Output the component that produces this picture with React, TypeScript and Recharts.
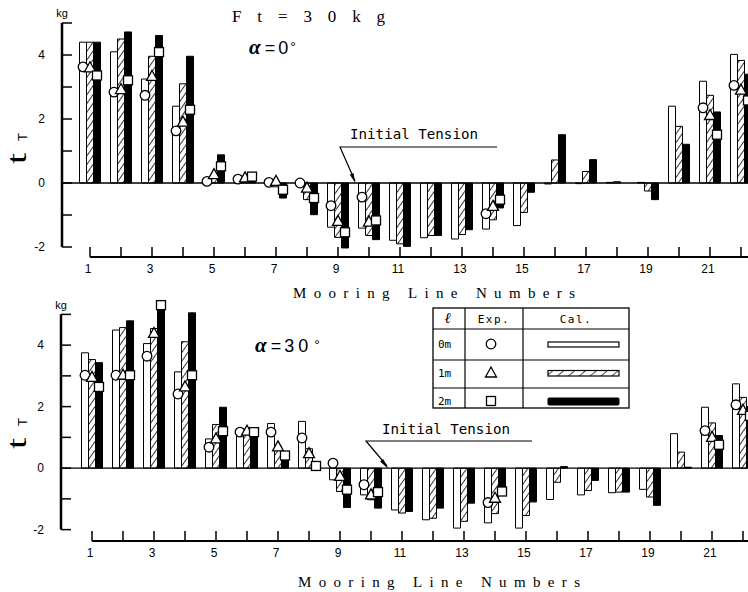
import React from 'react';
import { ComposedChart, Bar, Line, XAxis, YAxis, ReferenceLine, Legend } from 'recharts';

const lineNumbers = [1, 2, 3, 4, 5, 6, 7, 8, 9, 10, 11, 12, 13, 14, 15, 16, 17, 18, 19, 20, 21, 22];
const labeledLines = [1, 3, 5, 7, 9, 11, 13, 15, 17, 19, 21];
const tensionTicks = [-2, -1, 0, 1, 2, 3, 4, 5];
const labeledTensions = [-2, 0, 2, 4];
const lengthLabels = ['0m', '1m', '2m'];

// alpha = 0 deg, calculated (bars)
const cal0mA0 = [4.4, 4.1, 3.25, 2.4, 0.05, 0.03, -0.05, -0.05, -1.38, -1.41, -1.79, -1.71, -1.75, -1.44, -1.33, -0.03, -0.02, 0.02, 0.02, 2.4, 3.18, 4.02];
const cal1mA0 = [4.4, 4.5, 3.96, 3.1, 0.22, 0.12, -0.12, -0.52, -1.7, -1.64, -1.9, -1.64, -1.61, -1.15, -0.92, 0.72, 0.36, 0.04, -0.25, 1.77, 2.74, 3.83];
const cal2mA0 = [4.4, 4.72, 4.61, 3.96, 0.88, 0.18, -0.47, -0.99, -2.03, -1.77, -1.98, -1.64, -1.46, -0.78, -0.29, 1.51, 0.73, 0.0, -0.52, 1.21, 2.22, 3.4];
// alpha = 0 deg, experiment (markers)
const exp0mA0 = [3.63, 2.84, 2.74, 1.63, 0.05, 0.12, 0.02, 0.0, -0.71, -0.44, null, null, null, -0.96, null, null, null, null, null, null, 2.35, 3.05];
const exp1mA0 = [3.6, 2.92, 3.33, 1.9, 0.26, 0.16, 0.05, -0.16, -1.2, -1.22, null, null, null, -0.73, null, null, null, null, null, null, 2.11, 2.9];
const exp2mA0 = [3.36, 3.21, 4.09, 2.29, 0.52, 0.2, -0.21, -0.47, -1.54, -1.17, null, null, null, -0.52, null, null, null, null, null, null, 1.51, 2.58];

// alpha = 30 deg, calculated (bars)
const cal0mA30 = [3.75, 4.49, 4.05, 3.13, 0.95, 1.17, 1.45, 1.52, -0.38, -0.87, -1.36, -1.68, -1.95, -1.78, -1.95, -1.02, -0.87, -0.8, -0.69, 1.12, 1.98, 2.74];
const cal1mA30 = [3.53, 4.57, 4.54, 4.11, 1.42, 1.2, 0.72, 0.63, -0.76, -1.03, -1.46, -1.63, -1.73, -1.48, -1.54, -0.46, -0.73, -0.78, -0.94, 0.52, 1.47, 2.3];
const cal2mA30 = [3.43, 4.79, 5.3, 5.05, 1.98, 1.1, 0.41, 0.03, -1.28, -1.3, -1.41, -1.3, -1.14, -0.89, -1.1, 0.05, -0.4, -0.78, -1.21, 0.03, 1.06, 2.0];
// alpha = 30 deg, experiment (markers)
const exp0mA30 = [3.02, 3.02, 3.64, 2.41, 0.68, 1.17, 1.17, 0.98, 0.16, -0.54, null, null, null, -1.12, null, null, null, null, null, null, 1.22, 2.06];
const exp1mA30 = [2.95, 3.02, 4.38, 2.64, 0.95, 1.2, 0.69, 0.47, -0.27, -0.87, null, null, null, -0.98, null, null, null, null, null, null, 1.0, 1.88];
const exp2mA30 = [2.64, 3.02, 5.3, 3.02, 1.2, 1.17, 0.41, 0.07, -0.7, -0.78, null, null, null, -0.76, null, null, null, null, null, null, 0.76, 1.7];

const buildRows = (c0: number[], c1: number[], c2: number[], e0: (number | null)[], e1: (number | null)[], e2: (number | null)[]) =>
  lineNumbers.map((line, i) => ({ line, c0: c0[i], c1: c1[i], c2: c2[i], e0: e0[i], e1: e1[i], e2: e2[i] }));

const dataA0 = buildRows(cal0mA0, cal1mA0, cal2mA0, exp0mA0, exp1mA0, exp2mA0);
const dataA30 = buildRows(cal0mA30, cal1mA30, cal2mA30, exp0mA30, exp1mA30, exp2mA30);

const CHART_W = 800;
const BAR = 7;
const monoFont = '"DejaVu Sans Mono", monospace';
const tickFont = '"Liberation Sans", "DejaVu Sans", sans-serif';
const serifFont = '"Liberation Serif", "DejaVu Serif", serif';

const Marker = (props: any) => {
  const { cx, cy, kind, dx, value } = props;
  if (cx == null || cy == null || value == null) return null;
  const x = cx + (dx || 0);
  const common = { fill: '#fff', stroke: '#000', strokeWidth: 1.3 };
  if (kind === 'circle') return <circle cx={x} cy={cy} r={4.8} {...common} />;
  if (kind === 'triangle')
    return <polygon points={`${x},${cy - 6} ${x + 5.5},${cy + 4} ${x - 5.5},${cy + 4}`} {...common} />;
  return <rect x={x - 4.5} y={cy - 4.5} width={9} height={9} {...common} />;
};

const renderYTick = (props: any) => {
  const { x, y, payload } = props;
  const v = payload.value;
  return (
    <g>
      <line x1={x} y1={y} x2={x + 10} y2={y} stroke="#000" strokeWidth={1.5} />
      {labeledTensions.includes(v) && (
        <text x={x - 17} y={y} dy={4} textAnchor="end" fontSize={12} fontFamily={tickFont} fill="#000">
          {v}
        </text>
      )}
    </g>
  );
};

const renderXTick = (props: any) => {
  const { x, y, payload } = props;
  const v = payload.value;
  return (
    <g>
      <line x1={x} y1={y} x2={x} y2={y - 10} stroke="#000" strokeWidth={1.5} />
      {labeledLines.includes(v) && (
        <text x={x - 2} y={y + 16} textAnchor="middle" fontSize={12} fontFamily={tickFont} fill="#000">
          {v}
        </text>
      )}
    </g>
  );
};

const LegendTable = () => {
  const rowsY = [37, 66, 94];
  return (
    <svg width={198} height={102} style={{ display: 'block' }}>
      <rect x={1} y={1} width={196} height={100} fill="#fff" stroke="#000" strokeWidth={1.3} />
      <line x1={33} y1={1} x2={33} y2={101} stroke="#000" strokeWidth={1.2} />
      <line x1={91} y1={1} x2={91} y2={101} stroke="#000" strokeWidth={1.2} />
      <line x1={1} y1={22} x2={197} y2={22} stroke="#000" strokeWidth={1.2} />
      <line x1={1} y1={53} x2={197} y2={53} stroke="#000" strokeWidth={1.2} />
      <line x1={1} y1={81} x2={197} y2={81} stroke="#000" strokeWidth={1.2} />
      <text x={16} y={16} textAnchor="middle" fontSize={15} fontWeight="bold" fontStyle="italic" fontFamily={serifFont}>ℓ</text>
      <text x={62} y={16} textAnchor="middle" fontSize={11} letterSpacing={1.5} fontFamily={monoFont}>Exp.</text>
      <text x={144} y={16} textAnchor="middle" fontSize={11} letterSpacing={1.5} fontFamily={monoFont}>Cal.</text>
      {lengthLabels.map((l, i) => (
        <text key={l} x={6} y={rowsY[i] + 4} fontSize={11} fontFamily={monoFont}>{l}</text>
      ))}
      <Marker cx={59} cy={rowsY[0]} kind="circle" value={1} />
      <Marker cx={59} cy={rowsY[1]} kind="triangle" value={1} />
      <Marker cx={59} cy={rowsY[2]} kind="square" value={1} />
      <rect x={116} y={rowsY[0] - 2} width={71} height={5} fill="#fff" stroke="#000" strokeWidth={1.2} />
      <rect x={116} y={rowsY[1] - 2.5} width={71} height={5.5} fill="url(#hatchLegend)" stroke="#000" strokeWidth={1.2} />
      <rect x={116} y={rowsY[2] - 3} width={71} height={7} fill="#000" stroke="#000" strokeWidth={1} rx={1} />
    </svg>
  );
};

interface PanelProps {
  data: any[];
  domain: [number, number];
  top: number;
  height: number;
  marginTop: number;
  marginBottom: number;
  axisWidth: number;
  padLeft: number;
  marginRight: number;
  withLegend?: boolean;
}

function Panel({ data, domain, top, height, marginTop, marginBottom, axisWidth, padLeft, marginRight, withLegend }: PanelProps) {
  const plotH = height - marginTop - marginBottom - 30;
  const ppu = plotH / (domain[1] - domain[0]);
  const yDash = `0 ${(domain[1] - 5) * ppu} ${7 * ppu} 3000`;
  const plotW = CHART_W - axisWidth - marginRight;
  const band = (plotW - padLeft) / lineNumbers.length;
  const xDash = `0 ${padLeft + band / 2} 3000`;
  return (
    <div style={{ position: 'absolute', left: 0, top, width: CHART_W, height }}>
      <ComposedChart
        width={CHART_W}
        height={height}
        data={data}
        barSize={BAR}
        barGap={0}
        margin={{ top: marginTop, right: marginRight, bottom: marginBottom, left: 0 }}
      >
        <XAxis
          dataKey="line"
          type="category"
          interval={0}
          height={30}
          tickSize={0}
          tickMargin={0}
          tickLine={false}
          tick={renderXTick}
          padding={{ left: padLeft, right: 0 }}
          axisLine={{ stroke: '#000', strokeWidth: 2, strokeDasharray: xDash }}
        />
        <YAxis
          type="number"
          domain={domain}
          ticks={tensionTicks}
          interval={0}
          allowDataOverflow
          width={axisWidth}
          tickSize={0}
          tickMargin={0}
          tickLine={false}
          tick={renderYTick}
          axisLine={{ stroke: '#000', strokeWidth: 2.5, strokeDasharray: yDash }}
        />
        <ReferenceLine y={0} stroke="#000" strokeWidth={1.3} />
        <Bar dataKey="c0" fill="#fff" stroke="#000" strokeWidth={1} isAnimationActive={false} legendType="none" />
        <Bar dataKey="c1" fill="url(#hatchBar)" stroke="#000" strokeWidth={1} isAnimationActive={false} legendType="none" />
        <Bar dataKey="c2" fill="#000" stroke="#000" strokeWidth={1} isAnimationActive={false} legendType="none" />
        <Line dataKey="e0" stroke="none" dot={<Marker kind="circle" dx={-BAR} />} activeDot={false} isAnimationActive={false} legendType="none" />
        <Line dataKey="e1" stroke="none" dot={<Marker kind="triangle" dx={0} />} activeDot={false} isAnimationActive={false} legendType="none" />
        <Line dataKey="e2" stroke="none" dot={<Marker kind="square" dx={BAR} />} activeDot={false} isAnimationActive={false} legendType="none" />
        {withLegend && (
          <Legend
            layout="vertical"
            align="center"
            verticalAlign="middle"
            wrapperStyle={{ left: 432, top: 27, width: 198, height: 102 }}
            content={() => <LegendTable />}
          />
        )}
      </ComposedChart>
    </div>
  );
}

const AlphaLabel = ({ x, y, deg }: { x: number; y: number; deg: string }) => (
  <text x={x} y={y}>
    <tspan fontSize={21} fontStyle="italic" fontWeight="bold" fontFamily={serifFont}>α</tspan>
    <tspan dx={4} fontSize={18} fontFamily={tickFont}>=</tspan>
    <tspan dx={3} fontSize={18} fontFamily={tickFont} letterSpacing={deg.length > 1 ? 4 : 0}>{deg}</tspan>
    <tspan dx={2} dy={-2} fontSize={14} fontFamily={tickFont}>°</tspan>
  </text>
);

const TLabel = ({ x, y }: { x: number; y: number }) => (
  <g>
    <text transform={`translate(${x},${y}) rotate(-90) scale(1.5,1)`} fontSize={27} fontFamily={serifFont}>t</text>
    <text transform={`translate(${x + 1},${y - 23}) rotate(-90)`} fontSize={13} fontFamily={tickFont}>T</text>
  </g>
);

const Annotations = () => (
  <svg width={748} height={592} style={{ position: 'absolute', left: 0, top: 0, pointerEvents: 'none' }}>
    {/* top panel */}
    <text x={232} y={22} fontSize={17} fontFamily={serifFont} textLength={153} lengthAdjust="spacing">Ft=30kg</text>
    <AlphaLabel x={249} y={54} deg="0" />
    <text x={62} y={17} textAnchor="middle" fontSize={11} fontFamily={tickFont}>kg</text>
    <TLabel x={26} y={164} />
    <text x={350} y={139} fontSize={14} fontFamily={monoFont} textLength={128} lengthAdjust="spacingAndGlyphs">Initial Tension</text>
    <polyline points="497,147 340,147 355,181" fill="none" stroke="#000" strokeWidth={1.2} />
    <polygon points="355.5,183.5 353.4,173 349.8,174.6" fill="#000" />
    <text x={293} y={298} fontSize={15} fontFamily={serifFont} textLength={282} lengthAdjust="spacing">Mooring Line Numbers</text>

    {/* bottom panel */}
    <AlphaLabel x={255} y={352} deg="30" />
    <text x={61} y={309} textAnchor="middle" fontSize={11} fontFamily={tickFont}>kg</text>
    <TLabel x={26} y={449} />
    <text x={382} y={434} fontSize={14} fontFamily={monoFont} textLength={128} lengthAdjust="spacingAndGlyphs">Initial Tension</text>
    <polyline points="532,441 366,441 387,466" fill="none" stroke="#000" strokeWidth={1.2} />
    <polygon points="388.5,469 383.2,458.9 380.1,461.5" fill="#000" />
    <text x={298} y={587} fontSize={15} fontFamily={serifFont} textLength={282} lengthAdjust="spacing">Mooring Line Numbers</text>
  </svg>
);

export default function App() {
  return (
    <div style={{ position: 'absolute', left: 0, top: 0, width: 748, height: 592, overflow: 'hidden', background: '#fff' }}>
      <svg width={0} height={0} style={{ position: 'absolute' }}>
        <defs>
          <pattern id="hatchBar" patternUnits="userSpaceOnUse" width={5} height={5} patternTransform="rotate(35)">
            <rect width={5} height={5} fill="#fff" />
            <line x1={0} y1={0} x2={0} y2={5} stroke="#000" strokeWidth={1.6} />
          </pattern>
          <pattern id="hatchLegend" patternUnits="userSpaceOnUse" width={7} height={7} patternTransform="rotate(50)">
            <rect width={7} height={7} fill="#fff" />
            <line x1={0} y1={0} x2={0} y2={7} stroke="#000" strokeWidth={1.4} />
          </pattern>
        </defs>
      </svg>
      <Panel
        data={dataA0}
        domain={[-2.3125, 5.25]}
        top={0}
        height={300}
        marginTop={15}
        marginBottom={13}
        axisWidth={62}
        padLeft={12.5}
        marginRight={43.5}
      />
      <Panel
        data={dataA30}
        domain={[-2.37, 5.5]}
        top={280}
        height={312}
        marginTop={19}
        marginBottom={21}
        axisWidth={61}
        padLeft={15.5}
        marginRight={41.5}
        withLegend
      />
      <Annotations />
    </div>
  );
}
